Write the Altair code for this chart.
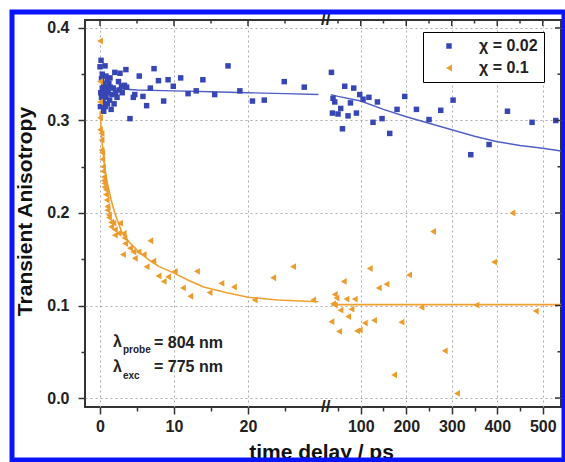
import altair as alt
import pandas as pd

# ---------------- data ----------------
blue_t = [0.14, 0.0, 0.68, 0.8, 1.35, 2.0, 2.7, 3.5, 2.5, 2.9, 3.6, 5.3, 7.3, 7.9, 9.2, 9.9,
          10.9, 11.9, 13.0, 13.9, 15.5, 17.3, 18.9, 20.6, 22.2, 24.9, 27.6, 4.05, 4.5, 4.7,
          5.8, 6.3, 6.8, 8.6,
          0.1, 0.2, 0.3, 0.4, 0.5, 0.6, 0.7, 0.8, 0.9, 1.0, 1.1, 1.2, 1.3, 1.5, 1.6, 1.8,
          1.9, 2.1, 2.3, 0.2, 0.05, 0.5, 1.0, 1.4, 2.6, 3.0, 3.3, 0.3,
          35.6, 39.1, 42.9, 37.8, 50.1, 56.0, 59.8, 64.8, 72.1, 77.4, 84.6, 90.5, 97.8,
          105.1, 118.0, 127.0, 136.7, 146.8, 163.7, 179.8, 196.7, 222.4, 250.1, 275.8,
          302.9, 341.8, 382.0, 422.4, 476.5, 528.6]
blue_r = [0.365, 0.358, 0.359, 0.348, 0.346, 0.352, 0.351, 0.355, 0.342, 0.337, 0.336, 0.348,
          0.356, 0.343, 0.344, 0.337, 0.346, 0.329, 0.332, 0.344, 0.328, 0.359, 0.332, 0.321,
          0.322, 0.342, 0.336, 0.302, 0.325, 0.328, 0.326, 0.316, 0.335, 0.321,
          0.330, 0.325, 0.335, 0.320, 0.340, 0.330, 0.315, 0.325, 0.335, 0.318, 0.330, 0.340,
          0.322, 0.312, 0.328, 0.335, 0.318, 0.330, 0.325, 0.345, 0.315, 0.310, 0.345, 0.336,
          0.333, 0.330, 0.338, 0.350,
          0.352, 0.324, 0.320, 0.308, 0.307, 0.313, 0.291, 0.337, 0.305, 0.319, 0.335, 0.308,
          0.328, 0.323, 0.325, 0.298, 0.320, 0.302, 0.286, 0.312, 0.326, 0.312, 0.301, 0.311,
          0.322, 0.263, 0.274, 0.310, 0.298, 0.300]

orange_t = [0.0, 0.0, 0.0, 0.0, 0.0, 0.2, 0.2, 0.2, 0.3, 0.3, 0.4, 0.4, 0.5, 0.5, 0.6, 0.6,
            0.8, 0.8, 0.9, 1.0, 1.0, 1.2, 1.2, 1.5, 1.5, 1.8, 2.0, 2.0, 2.5, 2.7, 3.1, 3.2,
            3.4, 3.3, 4.05, 4.5, 5.2, 4.7, 5.9, 6.8, 6.3, 7.2, 7.9, 8.6, 9.2, 10.1, 11.2,
            12.2, 13.1, 14.8, 16.4, 18.1, 20.9, 23.4, 26.1, 28.8,
            35.6, 42.9, 46.6, 39.3, 42.9, 52.3, 55.4, 62.6, 68.6, 72.1, 79.6, 86.8, 92.0,
            97.8, 108.8, 119.8, 129.2, 139.6, 156.5, 173.2, 189.4, 206.2, 233.4, 258.9,
            284.6, 311.6, 354.3, 393.0, 433.4, 484.6]
orange_r = [0.386, 0.342, 0.320, 0.303, 0.290, 0.286, 0.279, 0.268, 0.265, 0.258, 0.250, 0.245,
            0.239, 0.235, 0.232, 0.228, 0.225, 0.220, 0.214, 0.207, 0.203, 0.198, 0.195, 0.190,
            0.185, 0.189, 0.176, 0.182, 0.178, 0.189, 0.155, 0.178, 0.167, 0.173, 0.162, 0.158,
            0.158, 0.151, 0.155, 0.170, 0.142, 0.148, 0.132, 0.126, 0.131, 0.137, 0.119, 0.110,
            0.137, 0.114, 0.124, 0.120, 0.106, 0.130, 0.142, 0.106,
            0.0825, 0.112, 0.108, 0.102, 0.1005, 0.072, 0.095, 0.126, 0.107, 0.088, 0.096,
            0.107, 0.0725, 0.0735, 0.081, 0.140, 0.084, 0.119, 0.123, 0.025, 0.082, 0.133,
            0.098, 0.180, 0.051, 0.005, 0.1005, 0.147, 0.200, 0.094]

# fitted curves (left and right of the axis break)
blue_fit_left_t = [0, 3, 5, 10, 15, 20, 25, 29.5]
blue_fit_left_r = [0.335, 0.334, 0.333, 0.332, 0.331, 0.330, 0.329, 0.328]
blue_fit_right_t = [35, 50, 100, 150, 200, 250, 300, 350, 400, 450, 500, 540]
blue_fit_right_r = [0.328, 0.326, 0.321, 0.312, 0.304, 0.297, 0.290, 0.283, 0.277, 0.273, 0.270, 0.267]
orange_fit_left_t = [0, 0.3, 0.6, 1, 1.5, 2, 3, 4, 5, 6, 7, 8, 10, 12, 14, 17, 20, 24, 29.5]
orange_fit_left_r = [0.31, 0.275, 0.25, 0.232, 0.214, 0.2, 0.178, 0.168, 0.160, 0.153, 0.147,
                     0.142, 0.135, 0.127, 0.120, 0.114, 0.109, 0.106, 0.104]
orange_fit_right_t = [35, 100, 200, 300, 400, 540]
orange_fit_right_r = [0.101, 0.101, 0.101, 0.101, 0.101, 0.101]

series_names = ["χ = 0.02", "χ = 0.1"]
x_major = [0, 10, 20, 100, 200, 300, 400, 500]
x_minor = [5, 15, 25, 50, 150, 250, 350, 450]
y_major = [0.0, 0.1, 0.2, 0.3, 0.4]
y_minor = [0.05, 0.15, 0.25, 0.35]

# broken time axis: left part 0..30.5 ps, right part compressed, starting at 23 ps
BREAK_L = 30.5
BREAK_R = 23.0
K = 0.0615


def xp(t):
    return t if t <= BREAK_L else BREAK_L + (t - BREAK_R) * K


BLUE = "#3646b4"
ORANGE = "#ec9c2c"
FONT = "Liberation Sans"

pts = pd.DataFrame({
    "t": blue_t + orange_t,
    "r": blue_r + orange_r,
    "series": [series_names[0]] * len(blue_t) + [series_names[1]] * len(orange_t),
})
pts["xp"] = pts["t"].map(xp)


def fit_df(tl, rl, seg):
    d = pd.DataFrame({"t": tl, "r": rl})
    d["xp"] = d["t"].map(xp)
    d["seg"] = seg
    return d


blue_fit = pd.concat([fit_df(blue_fit_left_t, blue_fit_left_r, "a"),
                      fit_df(blue_fit_right_t, blue_fit_right_r, "b")])
orange_fit = pd.concat([fit_df(orange_fit_left_t, orange_fit_left_r, "a"),
                        fit_df(orange_fit_right_t, orange_fit_right_r, "b")])

x_all = sorted(x_major + x_minor)
x_vals = [round(xp(v), 4) for v in x_all]
x_major_p = [round(xp(v), 4) for v in x_major]

label_expr = "''"
for v in x_major:
    label_expr = f"abs(datum.value - {xp(v):.4f}) < 0.01 ? '{v}' : ({label_expr})"
x_is_major = " || ".join(f"abs(datum.value - {p}) < 0.01" for p in x_major_p)
y_is_major = "abs(datum.value*10 - round(datum.value*10)) < 0.001"

x_scale = alt.Scale(domain=[-2.03, 62.3], nice=False, zero=False)
y_scale = alt.Scale(domain=[-0.0097, 0.4086], nice=False, zero=False)

x_axis = alt.Axis(
    values=x_vals, labelExpr=label_expr, title="time delay / ps",
    grid=True, gridDash=[2, 3], gridColor="#aaaaaa",
    gridOpacity={"condition": {"test": x_is_major, "value": 1}, "value": 0},
    tickSize={"condition": {"test": x_is_major, "value": 7}, "value": 4},
    labelPadding=4, titleX=236, titleY=51, titleBaseline="alphabetic",
    titleAnchor="middle", titleAlign="center",
)
y_axis = alt.Axis(
    values=y_major + y_minor,
    labelExpr=f"{y_is_major} ? format(datum.value, '.1f') : ''",
    title="Transient Anisotropy",
    grid=True, gridDash=[2, 3], gridColor="#aaaaaa",
    gridOpacity={"condition": {"test": y_is_major, "value": 1}, "value": 0},
    tickSize={"condition": {"test": y_is_major, "value": 7}, "value": 4},
    labelPadding=9, titleAngle=270, titleX=-54, titleY=191,
    titleAlign="center", titleBaseline="alphabetic",
)

X = alt.X("xp:Q", scale=x_scale, axis=x_axis)
Y = alt.Y("r:Q", scale=y_scale, axis=y_axis)

points = alt.Chart(pts).mark_point(filled=True, opacity=1).encode(
    x=X, y=Y,
    color=alt.Color("series:N", scale=alt.Scale(domain=series_names, range=[BLUE, ORANGE]),
                    legend=alt.Legend(title=None, orient="none", legendX=338, legendY=12,
                                      strokeColor="black", fillColor="white", padding=6,
                                      rowPadding=6, symbolOffset=12, labelOffset=22,
                                      labelFont=FONT, labelFontSize=16, labelFontWeight="bold",
                                      labelColor="#222", symbolSize=32, cornerRadius=0)),
    shape=alt.Shape("series:N", scale=alt.Scale(domain=series_names,
                                                 range=["square", "triangle-left"])),
    size=alt.Size("series:N", scale=alt.Scale(domain=series_names, range=[30, 46]),
                  legend=None),
)

blue_line = alt.Chart(blue_fit).mark_line(color="#5060c4", strokeWidth=1.4).encode(
    x=X, y=Y, detail="seg:N")
orange_line = alt.Chart(orange_fit).mark_line(color="#f0a030", strokeWidth=1.6).encode(
    x=X, y=Y, detail="seg:N")

# mirror ticks (inward) on top and right edges
top_major = pd.DataFrame({"xp": x_major_p, "r": [0.0] * len(x_major_p)})
top_minor = pd.DataFrame({"xp": [xp(v) for v in x_minor], "r": [0.0] * len(x_minor)})
top_ticks_major = alt.Chart(top_major).mark_rule(color="#333", strokeWidth=1.5).encode(
    x=X, y=alt.value(0), y2=alt.value(6))
top_ticks_minor = alt.Chart(top_minor).mark_rule(color="#333", strokeWidth=1.5).encode(
    x=X, y=alt.value(0), y2=alt.value(3.5))
right_major = pd.DataFrame({"r": y_major, "xp": [0.0] * len(y_major)})
right_minor = pd.DataFrame({"r": y_minor, "xp": [0.0] * len(y_minor)})
right_ticks_major = alt.Chart(right_major).mark_rule(color="#333", strokeWidth=1.5).encode(
    y=Y, x=alt.value(476), x2=alt.value(470))
right_ticks_minor = alt.Chart(right_minor).mark_rule(color="#333", strokeWidth=1.5).encode(
    y=Y, x=alt.value(476), x2=alt.value(472.5))

brk = pd.DataFrame({"xp": [BREAK_L], "r": [0.0], "lab": ["//"]})
break_top = alt.Chart(brk).mark_text(font=FONT, fontSize=17, fontWeight="bold",
                                     color="#222", baseline="middle").encode(
    x=X, y=alt.value(0), text="lab:N")
break_bot = alt.Chart(brk).mark_text(font=FONT, fontSize=17, fontWeight="bold",
                                     color="#222", baseline="middle").encode(
    x=X, y=alt.value(387), text="lab:N")

ann = pd.DataFrame({
    "txt": ["λ", "probe", "= 804 nm", "λ", "exc", "= 775 nm"],
    "px": [28, 38, 69, 28, 38, 69],
    "py": [327, 333, 328, 352, 359, 352],
    "fs": [16, 10, 16, 16, 10, 16],
})
annotation = alt.Chart(ann).mark_text(font=FONT, fontWeight="bold", color="#222",
                                      align="left", baseline="alphabetic").encode(
    x=alt.X("px:Q", scale=None), y=alt.Y("py:Q", scale=None), text="txt:N",
    size=alt.Size("fs:Q", scale=None, legend=None))

frame = alt.Chart(pd.DataFrame({"a": [0]})).mark_rect(
    fill=None, fillOpacity=0, stroke="#0a14ff", strokeWidth=5).encode(
    x=alt.value(-73), x2=alt.value(479), y=alt.value(-8), y2=alt.value(440))

chart = alt.layer(
    blue_line, orange_line, points,
    top_ticks_major, top_ticks_minor, right_ticks_major, right_ticks_minor,
    break_top, break_bot, annotation, frame,
).properties(
    width=476, height=387, autosize="none", background="white",
    padding={"left": 85, "top": 20, "right": 4, "bottom": 55},
).configure_view(
    stroke="#333", strokeWidth=2,
).configure_axis(
    domain=False, tickColor="#333", tickWidth=1.5,
    labelFont=FONT, labelFontSize=16, labelFontWeight="bold", labelColor="#222",
    titleFont=FONT, titleFontSize=21, titleFontWeight="bold", titleColor="#111",
)

chart.save("out.html", embed_options={"renderer": "svg", "actions": False})
